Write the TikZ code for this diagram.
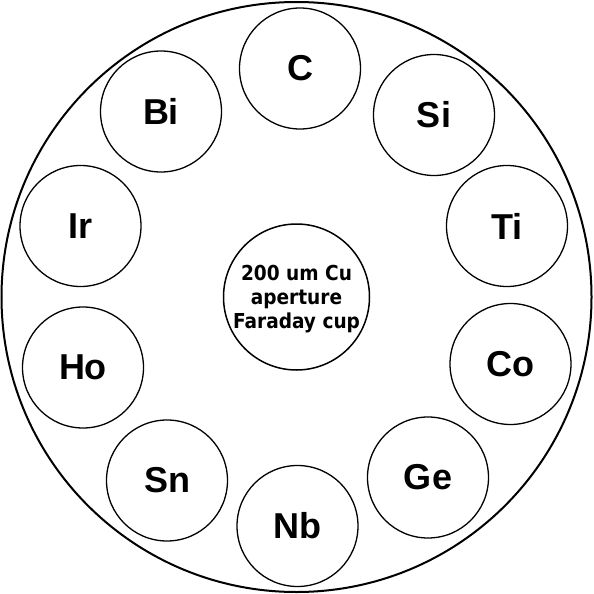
\documentclass[tikz,border=0pt]{standalone}
\usepackage{fontspec}
\setmainfont{Liberation Sans}
\newfontfamily\centerfont[FakeStretch=0.9]{DejaVu Sans}
\begin{document}
\begin{tikzpicture}[x=1pt,y=-1pt,
  holder/.style={circle,draw,line width=1.3pt,minimum size=121pt,inner sep=0pt,
    font=\fontsize{36}{40}\selectfont\bfseries},
  cup/.style={circle,draw,line width=1.5pt,minimum size=146pt,inner sep=0pt},
  cuptext/.style={align=center,inner sep=0pt,
    font=\centerfont\fontsize{20.6}{24}\selectfont\bfseries}]
\useasboundingbox (0,0) rectangle (594,594);
\node[circle,draw,line width=2pt,minimum size=590pt,inner sep=0pt] (plate) at (296.5,297) {};
\node[holder] (C) at (300,68.5) {C};
\node[holder] (Si) at (434,115) {Si};
\node[holder] (Ti) at (507,226) {Ti};
\node[holder] (Co) at (510.5,364) {Co};
\node[holder] (Ge) at (428,477.5) {Ge};
\node[holder] (Nb) at (297.5,526) {Nb};
\node[holder] (Sn) at (167,480.5) {Sn};
\node[holder] (Ho) at (83,367.5) {Ho};
\node[holder] (Ir) at (80.5,226) {Ir};
\node[holder] (Bi) at (161,111.5) {Bi};
\node[cup] (FC) at (296.5,297) {};
\node[cuptext] (FCtext) at (296.5,299) {200 um Cu\\aperture\\Faraday cup};
\end{tikzpicture}
\end{document}
